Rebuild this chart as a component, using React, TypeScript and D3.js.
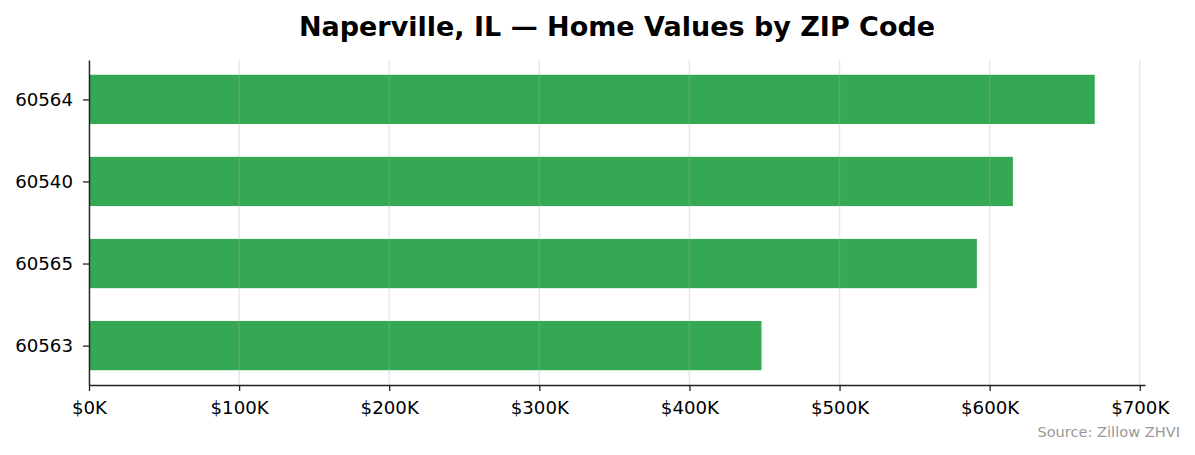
import { useEffect, useRef } from "react";
import * as d3 from "d3";

// ZIP codes, top to bottom
const zips = ["60564", "60540", "60565", "60563"];
// typical home value, in thousands of dollars
const values = [670, 615.5, 591.5, 448];
const xTicks = [0, 100, 200, 300, 400, 500, 600, 700];

export default function App() {
    const svgRef = useRef<SVGSVGElement | null>(null);

    useEffect(() => {
        const width = 1195;
        const height = 455;
        const marginTop = 60;
        const marginRight = 50;
        const marginBottom = 70;
        const marginLeft = 89;
        const font = "DejaVu Sans, sans-serif";

        const svg = d3.select(svgRef.current)
            .attr("width", width)
            .attr("height", height)
            .attr("viewBox", [0, 0, width, height].join(" "));
        svg.selectAll("*").remove();

        // x domain padded by 5% like matplotlib does
        const x = d3.scaleLinear()
            .domain([0, d3.max(values)! * 1.05])
            .range([marginLeft, width - marginRight]);

        // categories as indices, with a bit of room on both ends
        const y = d3.scaleLinear()
            .domain([-0.48, zips.length - 1 + 0.48])
            .range([marginTop, height - marginBottom]);

        const barH = y(0.3) - y(-0.3);

        // bars
        svg.append("g")
            .selectAll("rect")
            .data(values)
            .enter()
            .append("rect")
            .attr("x", x(0))
            .attr("y", (_d, i) => y(i) - barH / 2)
            .attr("width", d => x(d) - x(0))
            .attr("height", barH)
            .attr("fill", "#34a853");

        // vertical grid lines, drawn above bars
        svg.append("g")
            .selectAll("line")
            .data(xTicks)
            .enter()
            .append("line")
            .attr("x1", d => x(d))
            .attr("x2", d => x(d))
            .attr("y1", marginTop)
            .attr("y2", height - marginBottom)
            .attr("stroke", "#b0b0b0")
            .attr("stroke-opacity", 0.3)
            .attr("stroke-width", 1.5);

        // x axis
        svg.append("g")
            .attr("transform", `translate(0,${height - marginBottom})`)
            .call(d3.axisBottom(x)
                .tickValues(xTicks)
                .tickFormat(d => `$${d}K`)
                .tickSize(6)
                .tickSizeOuter(0)
                .tickPadding(10))
            .call(g => g.select(".domain").attr("stroke", "#222").attr("stroke-width", 1.4))
            .call(g => g.selectAll(".tick line").attr("stroke", "#222").attr("stroke-width", 1.3))
            .call(g => g.selectAll(".tick text")
                .attr("fill", "#000")
                .style("font-family", font)
                .style("font-size", "18.2px"));

        // y axis
        svg.append("g")
            .attr("transform", `translate(${marginLeft},0)`)
            .call(d3.axisLeft(y)
                .tickValues(zips.map((_z, i) => i))
                .tickFormat(d => zips[d as number])
                .tickSize(6)
                .tickSizeOuter(0)
                .tickPadding(10))
            .call(g => g.select(".domain").attr("stroke", "#222").attr("stroke-width", 1.4))
            .call(g => g.selectAll(".tick line").attr("stroke", "#222").attr("stroke-width", 1.3))
            .call(g => g.selectAll(".tick text")
                .attr("fill", "#000")
                .style("font-family", font)
                .style("font-size", "18.2px"));

        // title
        svg.append("text")
            .attr("x", (marginLeft + width - marginRight) / 2)
            .attr("y", 36)
            .attr("text-anchor", "middle")
            .style("font-family", font)
            .style("font-weight", "bold")
            .style("font-size", "27px")
            .text("Naperville, IL — Home Values by ZIP Code");

        // source note
        svg.append("text")
            .attr("x", 1180)
            .attr("y", 437)
            .attr("text-anchor", "end")
            .attr("fill", "#999")
            .style("font-family", font)
            .style("font-size", "14.6px")
            .text("Source: Zillow ZHVI");
    }, []);

    return (
        <svg ref={svgRef} style={{ position: "absolute", left: 0, top: 0, background: "#fff" }} />
    );
}
